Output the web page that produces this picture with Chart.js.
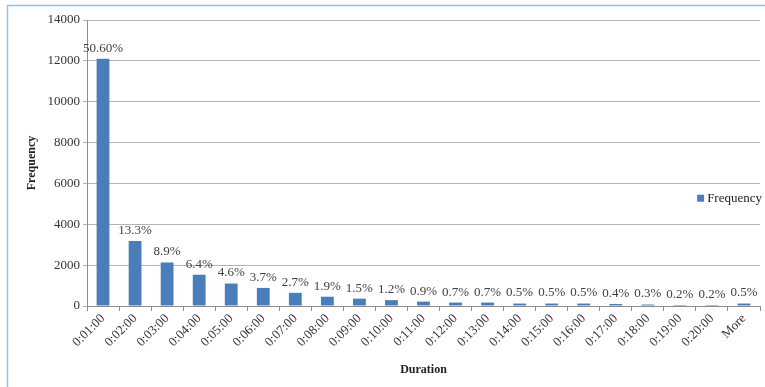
<!DOCTYPE html>
<html>
<head>
<meta charset="utf-8">
<script src="https://cdn.jsdelivr.net/npm/chart.js@4.4.1/dist/chart.umd.min.js"></script>
<style>
  html, body { margin: 0; padding: 0; background: #fff; }
  #wrap { width: 765px; height: 387px; }
</style>
</head>
<body>
<div id="wrap"><canvas id="chart" width="765" height="387"></canvas></div>
<script>
// histogram bins (call duration) and counts per bin
const durations = ['0:01:00', '0:02:00', '0:03:00', '0:04:00', '0:05:00', '0:06:00', '0:07:00',
  '0:08:00', '0:09:00', '0:10:00', '0:11:00', '0:12:00', '0:13:00', '0:14:00', '0:15:00',
  '0:16:00', '0:17:00', '0:18:00', '0:19:00', '0:20:00', 'More'];
const frequency = [12100, 3180, 2130, 1530, 1100, 885, 646, 454, 359, 287, 215, 167, 167,
  120, 120, 120, 96, 72, 48, 48, 120];
// share of all calls, printed above each bar
const percentLabels = ['50.60%', '13.3%', '8.9%', '6.4%', '4.6%', '3.7%', '2.7%', '1.9%', '1.5%',
  '1.2%', '0.9%', '0.7%', '0.7%', '0.5%', '0.5%', '0.5%', '0.4%', '0.3%', '0.2%', '0.2%', '0.5%'];
const yTicks = [0, 2000, 4000, 6000, 8000, 10000, 12000, 14000];

const SERIF = '"Liberation Serif", "Times New Roman", serif';
const BAR_BLUE = '#4a7ebb';

// thin blue frame round the whole chart
const framePlugin = {
  id: 'frame',
  beforeDraw(chart) {
    const ctx = chart.ctx;
    ctx.save();
    ctx.strokeStyle = '#9dbbe0';
    ctx.lineWidth = 1.5;
    ctx.beginPath();
    ctx.moveTo(7.5, 400);
    ctx.lineTo(7.5, 5.5);
    ctx.lineTo(800, 5.5);
    ctx.stroke();
    ctx.restore();
  }
};

// percentage text over every bar
const barLabels = {
  id: 'barLabels',
  afterDatasetsDraw(chart) {
    const ctx = chart.ctx;
    const meta = chart.getDatasetMeta(0);
    ctx.save();
    ctx.font = '13px ' + SERIF;
    ctx.fillStyle = '#404040';
    ctx.textAlign = 'center';
    ctx.textBaseline = 'bottom';
    meta.data.forEach((bar, i) => {
      ctx.fillText(percentLabels[i], bar.x, bar.y - 4);
    });
    ctx.restore();
  }
};

// legend entry sitting inside the plot on the right
const sideLegend = {
  id: 'sideLegend',
  afterDraw(chart) {
    const ctx = chart.ctx;
    const area = chart.chartArea;
    const label = chart.data.datasets[0].label;
    ctx.save();
    ctx.font = '13px ' + SERIF;
    const w = ctx.measureText(label).width;
    const x = area.right + 2 - w;
    const y = area.top + (area.bottom - area.top) * 0.625;
    ctx.fillStyle = BAR_BLUE;
    ctx.fillRect(x - 10, y - 4, 7, 7);
    ctx.fillStyle = '#222';
    ctx.textBaseline = 'middle';
    ctx.fillText(label, x, y);
    ctx.restore();
  }
};

new Chart(document.getElementById('chart'), {
  type: 'bar',
  data: {
    labels: durations,
    datasets: [{
      label: 'Frequency',
      data: frequency,
      backgroundColor: BAR_BLUE,
      borderWidth: 0,
      categoryPercentage: 1.0,
      barPercentage: 0.4
    }]
  },
  options: {
    responsive: false,
    animation: false,
    devicePixelRatio: 1,
    layout: { padding: { left: 25, right: 5, top: 20, bottom: 10 } },
    plugins: {
      legend: { display: false },
      tooltip: { enabled: false }
    },
    scales: {
      x: {
        offset: true,
        grid: {
          offset: true,
          drawOnChartArea: false,
          color: '#8c8c8c',
          tickLength: 5
        },
        border: { color: '#8c8c8c' },
        ticks: {
          autoSkip: false,
          maxRotation: 45,
          minRotation: 45,
          padding: 0,
          color: '#333',
          font: { family: SERIF, size: 13 }
        },
        title: {
          display: true,
          text: 'Duration',
          color: '#222',
          padding: { top: 6, bottom: 0 },
          font: { family: SERIF, size: 12, weight: 'bold' }
        },
        afterFit(scale) { scale.height = 71; }
      },
      y: {
        min: 0,
        max: 14000,
        afterBuildTicks(scale) { scale.ticks = yTicks.map(v => ({ value: v })); },
        grid: { color: '#b3b3b3', tickLength: 4 },
        border: { color: '#8c8c8c' },
        ticks: {
          padding: 3,
          color: '#333',
          font: { family: SERIF, size: 13 },
          callback: (v) => String(v)
        },
        title: {
          display: true,
          text: 'Frequency',
          color: '#222',
          padding: { top: 0, bottom: 4 },
          font: { family: SERIF, size: 12, weight: 'bold' }
        },
        afterFit(scale) { scale.width = 62; }
      }
    }
  },
  plugins: [framePlugin, barLabels, sideLegend]
});
</script>
</body>
</html>
